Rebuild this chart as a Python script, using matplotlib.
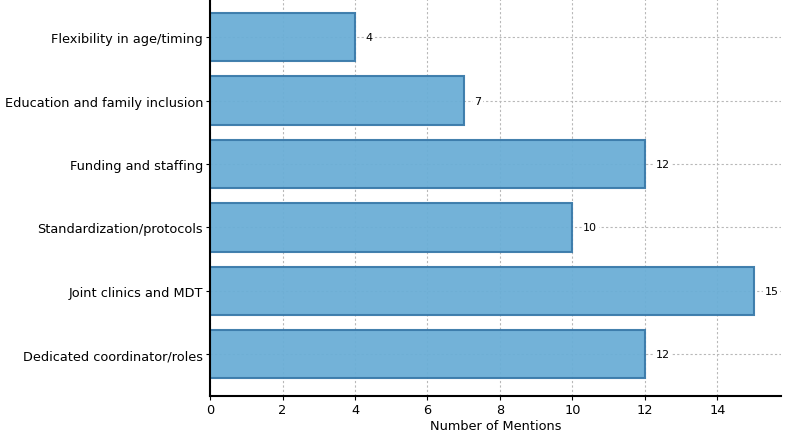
import matplotlib
matplotlib.use("Agg")
import matplotlib.pyplot as plt

categories = ["Dedicated coordinator/roles", "Joint clinics and MDT", "Standardization/protocols",
              "Funding and staffing", "Education and family inclusion", "Flexibility in age/timing"]
values = [12, 15, 10, 12, 7, 4]

fig = plt.figure(figsize=(7.87, 4.35), dpi=100)
ax = fig.add_axes([0.267, 0.087, 0.725, 0.913])
bars = ax.barh(categories, values, height=0.76, color="#6baed6", edgecolor="#3a7aaa",
               linewidth=1.5, alpha=0.95, zorder=2)
ax.grid(True, linestyle=(0, (2, 2)), color="#b8b8b8", linewidth=0.8, zorder=1)
for i, v in enumerate(values):
    ax.text(v + 0.3, i, str(v), va="center", ha="left", fontsize=8,
            bbox=dict(facecolor="white", edgecolor="none", pad=1), zorder=4)
ax.set_xlim(0, 15.75)
ax.set_ylim(-0.66, 5.6)
ax.set_xticks([0, 2, 4, 6, 8, 10, 12, 14])
ax.spines["top"].set_visible(False)
ax.spines["right"].set_visible(False)
ax.spines["left"].set_linewidth(1.5)
ax.spines["bottom"].set_linewidth(1.5)
ax.tick_params(labelsize=9.3, length=3, pad=2)
ax.set_xlabel("Number of Mentions", fontsize=9.3, labelpad=2)
fig.savefig("out.png", dpi=100)
